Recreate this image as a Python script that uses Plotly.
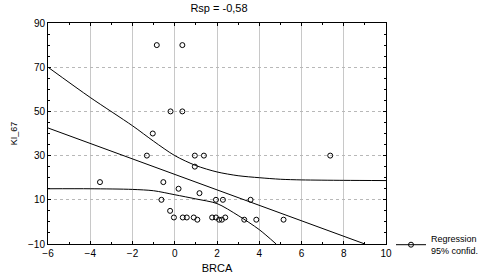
import plotly.graph_objects as go

# Data
brca = [-0.85, 0.36, -0.2, 0.36, -1.04, -1.32, 0.95, 1.38, 7.36, 0.95,
        -3.54, -0.54, 0.18, 1.17, -0.63, 1.95, 2.28, 3.59, -0.22, -0.04,
        0.38, 0.57, 0.9, 1.07, 1.77, 1.95, 2.1, 2.23, 2.39, 3.29, 3.86, 5.15]
ki67 = [80, 80, 50, 50, 40, 30, 30, 30, 30, 25,
        18, 18, 15, 13, 10, 10, 10, 10, 5, 2,
        2, 2, 2, 1, 2, 2, 1, 1, 2, 1, 1, 1]

# Regression line and 95% confidence band
fit_x = [-6, 9]
fit_y = [42.5, -10]
ci_up_x = [-6, -4, -2, -1, 0, 1, 2, 3, 4, 5, 6, 8, 10]
ci_up_y = [70.0, 56.3, 43.5, 36.5, 30.0, 25.5, 22.6, 20.9, 20.0, 19.3, 19.0, 18.8, 18.7]
ci_lo_x = [-6, -4, -2, -1, 0, 1, 2, 3, 4, 4.8]
ci_lo_y = [15.0, 15.0, 14.7, 14.1, 12.3, 10.4, 8.3, 2.9, -3.5, -10.0]

x_ticks = [-6, -4, -2, 0, 2, 4, 6, 8, 10]
y_ticks = [-10, 10, 30, 50, 70, 90]
title_text = "Rsp = -0,58"

fig = go.Figure()
line_style = dict(color="black", width=1)
fig.add_trace(go.Scatter(x=fit_x, y=fit_y, mode="lines", line=line_style,
                         showlegend=False, hoverinfo="skip"))
fig.add_trace(go.Scatter(x=ci_up_x, y=ci_up_y, mode="lines",
                         line=dict(color="black", width=1, shape="spline", smoothing=0.8),
                         showlegend=False, hoverinfo="skip"))
fig.add_trace(go.Scatter(x=ci_lo_x, y=ci_lo_y, mode="lines",
                         line=dict(color="black", width=1, shape="spline", smoothing=0.8),
                         showlegend=False, hoverinfo="skip"))
fig.add_trace(go.Scatter(x=brca, y=ki67, mode="markers",
                         marker=dict(symbol="circle-open", size=5,
                                     color="black", line=dict(width=1)),
                         showlegend=False))
fig.add_trace(go.Scatter(x=[None], y=[None], mode="lines+markers",
                         name="Regression<br>95% confid.",
                         line=line_style,
                         marker=dict(symbol="circle-open", size=5, color="black")))

font = dict(family="Liberation Sans, Arial, sans-serif", color="black")
fig.update_layout(
    width=487, height=275,
    margin=dict(l=48, r=101, t=23, b=31),
    paper_bgcolor="white", plot_bgcolor="white",
    font=dict(size=10, **font),
    title=dict(text=title_text, x=219 / 487, xanchor="center",
               y=1 - 8 / 275, yanchor="middle", font=dict(size=11, **font)),
    legend=dict(xref="container", yref="container",
                x=391 / 487, y=1 - 245 / 275, xanchor="left", yanchor="middle",
                bgcolor="rgba(0,0,0,0)", font=dict(size=9, **font),
                itemwidth=30, tracegroupgap=0),
    showlegend=True,
)
fig.update_xaxes(range=[-6, 10], tickvals=x_ticks, showgrid=True, automargin=False,
                 gridcolor="#c8c8c8", gridwidth=1, zeroline=False,
                 showline=True, linecolor="black", linewidth=1, mirror="ticks",
                 ticks="inside", ticklen=3, tickcolor="black",
                 minor=dict(dtick=1, ticks="inside", ticklen=2, tickcolor="black", showgrid=False),
                 title=dict(text="BRCA", font=dict(size=11, **font), standoff=6),
                 tickfont=dict(size=10, **font))
fig.update_yaxes(range=[-10, 90], tickvals=y_ticks, showgrid=True, automargin=False,
                 gridcolor="#b8b8b8", gridwidth=1, griddash="dot", zeroline=False,
                 showline=True, linecolor="black", linewidth=1, mirror="ticks",
                 ticks="inside", ticklen=3, tickcolor="black",
                 minor=dict(dtick=5, ticks="inside", ticklen=2, tickcolor="black", showgrid=False),
                 title=dict(text="KI_67", font=dict(size=9, **font), standoff=8),
                 tickfont=dict(size=10, **font))

fig.write_html("out.html", config={"displayModeBar": False},
               post_script="document.body.style.margin='0px';")
